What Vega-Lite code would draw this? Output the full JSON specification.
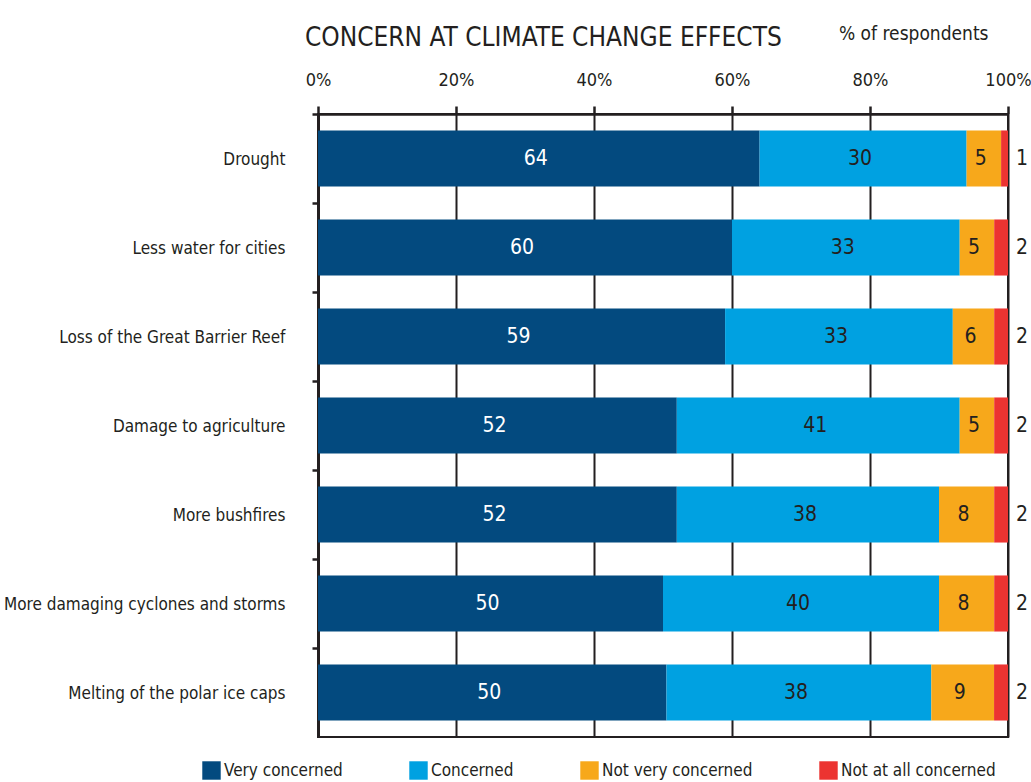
{
  "$schema": "https://vega.github.io/schema/vega-lite/v6.json",
  "width": 690,
  "height": 623,
  "autosize": {"type": "none"},
  "padding": {"left": 318, "top": 114, "right": 23, "bottom": 45},
  "background": "white",
  "title": {
    "text": "CONCERN AT CLIMATE CHANGE EFFECTS",
    "anchor": "start",
    "frame": "group",
    "dx": -13,
    "offset": -27,
    "fontSize": 26,
    "fontWeight": "normal",
    "color": "#231f20"
  },
  "config": {
    "font": "DejaVu Sans Condensed, Liberation Sans Narrow, sans-serif",
    "view": {"stroke": "#231f20", "strokeWidth": 2},
    "axis": {
      "domainColor": "#231f20",
      "tickColor": "#231f20",
      "labelColor": "#231f20",
      "titleColor": "#231f20"
    },
    "legend": {"labelColor": "#231f20"}
  },
  "data": {
    "values": [
      {"item": "Drought", "response": "Very concerned", "rank": 1, "value": 64},
      {"item": "Drought", "response": "Concerned", "rank": 2, "value": 30},
      {"item": "Drought", "response": "Not very concerned", "rank": 3, "value": 5},
      {"item": "Drought", "response": "Not at all concerned", "rank": 4, "value": 1},
      {"item": "Less water for cities", "response": "Very concerned", "rank": 1, "value": 60},
      {"item": "Less water for cities", "response": "Concerned", "rank": 2, "value": 33},
      {"item": "Less water for cities", "response": "Not very concerned", "rank": 3, "value": 5},
      {"item": "Less water for cities", "response": "Not at all concerned", "rank": 4, "value": 2},
      {"item": "Loss of the Great Barrier Reef", "response": "Very concerned", "rank": 1, "value": 59},
      {"item": "Loss of the Great Barrier Reef", "response": "Concerned", "rank": 2, "value": 33},
      {"item": "Loss of the Great Barrier Reef", "response": "Not very concerned", "rank": 3, "value": 6},
      {"item": "Loss of the Great Barrier Reef", "response": "Not at all concerned", "rank": 4, "value": 2},
      {"item": "Damage to agriculture", "response": "Very concerned", "rank": 1, "value": 52},
      {"item": "Damage to agriculture", "response": "Concerned", "rank": 2, "value": 41},
      {"item": "Damage to agriculture", "response": "Not very concerned", "rank": 3, "value": 5},
      {"item": "Damage to agriculture", "response": "Not at all concerned", "rank": 4, "value": 2},
      {"item": "More bushfires", "response": "Very concerned", "rank": 1, "value": 52},
      {"item": "More bushfires", "response": "Concerned", "rank": 2, "value": 38},
      {"item": "More bushfires", "response": "Not very concerned", "rank": 3, "value": 8},
      {"item": "More bushfires", "response": "Not at all concerned", "rank": 4, "value": 2},
      {"item": "More damaging cyclones and storms", "response": "Very concerned", "rank": 1, "value": 50},
      {"item": "More damaging cyclones and storms", "response": "Concerned", "rank": 2, "value": 40},
      {"item": "More damaging cyclones and storms", "response": "Not very concerned", "rank": 3, "value": 8},
      {"item": "More damaging cyclones and storms", "response": "Not at all concerned", "rank": 4, "value": 2},
      {"item": "Melting of the polar ice caps", "response": "Very concerned", "rank": 1, "value": 50},
      {"item": "Melting of the polar ice caps", "response": "Concerned", "rank": 2, "value": 38},
      {"item": "Melting of the polar ice caps", "response": "Not very concerned", "rank": 3, "value": 9},
      {"item": "Melting of the polar ice caps", "response": "Not at all concerned", "rank": 4, "value": 2}
    ]
  },
  "encoding": {
    "y": {
      "field": "item",
      "type": "nominal",
      "sort": null,
      "scale": {"paddingInner": 0.37, "paddingOuter": 0.185},
      "axis": {
        "title": null,
        "domainWidth": 3,
        "tickSize": 6,
        "tickWidth": 2.5,
        "bandPosition": 0,
        "tickOffset": -16,
        "labelOffset": 17,
        "labelFontSize": 17,
        "labelPadding": 27,
        "labelLimit": 400
      }
    }
  },
  "layer": [
    {
      "mark": {"type": "bar"},
      "encoding": {
        "x": {
          "field": "value",
          "type": "quantitative",
          "stack": "normalize",
          "scale": {"domain": [0, 1], "nice": false},
          "axis": {
            "orient": "top",
            "values": [0, 0.2, 0.4, 0.6, 0.8, 1],
            "format": ".0%",
            "grid": true,
            "gridColor": "#231f20",
            "gridWidth": 2,
            "gridOpacity": 1,
            "tickSize": 8,
            "tickWidth": 2.5,
            "domainWidth": 2.5,
            "labelFontSize": 18,
            "labelPadding": 17,
            "labelFlush": false,
            "title": "% of respondents",
            "titleX": 670,
            "titleY": -81,
            "titleAlign": "right",
            "titleBaseline": "middle",
            "titleFontSize": 19,
            "titleFontWeight": "normal"
          }
        },
        "color": {
          "field": "response",
          "type": "nominal",
          "scale": {
            "domain": ["Very concerned", "Concerned", "Not very concerned", "Not at all concerned"],
            "range": ["#034a7f", "#00a1e1", "#f7a81b", "#ec3431"]
          },
          "legend": {
            "title": null,
            "orient": "none",
            "direction": "horizontal",
            "legendX": -116,
            "legendY": 647,
            "symbolType": "square",
            "symbolSize": 340,
            "symbolStrokeWidth": 0,
            "symbolOpacity": 1,
            "labelFontSize": 17,
            "labelOffset": 3,
            "labelLimit": 300,
            "columnPadding": 66,
            "gridAlign": "none"
          }
        },
        "order": {"field": "rank", "type": "quantitative"}
      }
    },
    {
      "transform": [
        {
          "stack": "value",
          "groupby": ["item"],
          "sort": [{"field": "rank", "order": "ascending"}],
          "offset": "normalize",
          "as": ["v0", "v1"]
        },
        {"filter": "datum.response !== 'Not at all concerned'"},
        {"fold": ["v0", "v1"], "as": ["edge", "pos"]},
        {
          "aggregate": [{"op": "mean", "field": "pos", "as": "mid"}],
          "groupby": ["item", "response", "value"]
        }
      ],
      "mark": {"type": "text", "fontSize": 21, "dx": -3, "baseline": "middle", "align": "center"},
      "encoding": {
        "x": {"field": "mid", "type": "quantitative"},
        "text": {"field": "value", "type": "quantitative"},
        "color": {
          "condition": {"test": "datum.response === 'Very concerned'", "value": "white"},
          "value": "#231f20"
        }
      }
    },
    {
      "transform": [{"filter": "datum.response === 'Not at all concerned'"}],
      "mark": {"type": "text", "fontSize": 21, "dx": 14, "align": "center", "baseline": "middle", "color": "#231f20"},
      "encoding": {
        "x": {"datum": 1, "type": "quantitative"},
        "text": {"field": "value", "type": "quantitative"}
      }
    }
  ]
}
